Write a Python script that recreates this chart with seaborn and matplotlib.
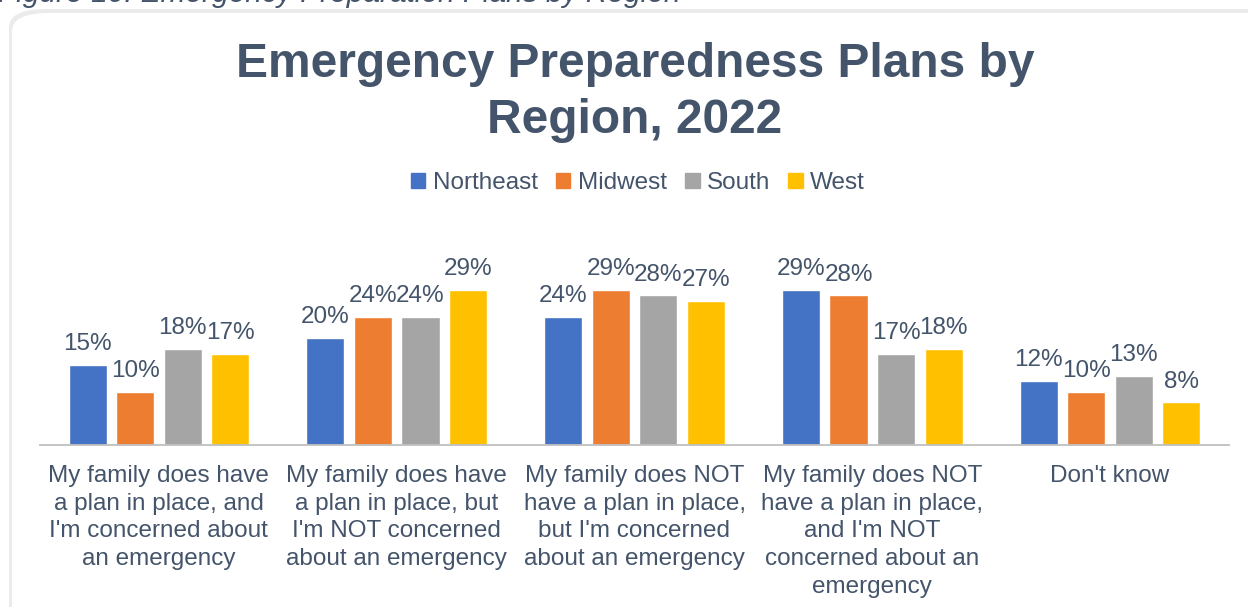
import matplotlib
matplotlib.use("Agg")
import matplotlib.pyplot as plt
from matplotlib.patches import FancyBboxPatch
import seaborn as sns
import pandas as pd

categories = [
    "My family does have\na plan in place, and\nI'm concerned about\nan emergency",
    "My family does have\na plan in place, but\nI'm NOT concerned\nabout an emergency",
    "My family does NOT\nhave a plan in place,\nbut I'm concerned\nabout an emergency",
    "My family does NOT\nhave a plan in place,\nand I'm NOT\nconcerned about an\nemergency",
    "Don't know",
]
regions = ["Northeast", "Midwest", "South", "West"]
northeast = [15, 20, 24, 29, 12]
midwest = [10, 24, 29, 28, 10]
south = [18, 24, 28, 17, 13]
west = [17, 29, 27, 18, 8]
colors = ["#4472C4", "#ED7D31", "#A5A5A5", "#FFC000"]

text_color = "#44546A"

rows = []
for region, vals in zip(regions, [northeast, midwest, south, west]):
    for cat, v in zip(categories, vals):
        rows.append({"category": cat, "region": region, "pct": v})
df = pd.DataFrame(rows)

sns.set_theme(style="white")
plt.rcParams["font.family"] = ["Liberation Sans", "DejaVu Sans"]

W, H = 1248, 607
fig = plt.figure(figsize=(W / 100, H / 100), dpi=100)

# Chart frame with a soft shadow
shadow = FancyBboxPatch((9 / W, -0.05), 1.05, (H - 9) / H + 0.05,
                        boxstyle="round,pad=0,rounding_size=0.03",
                        transform=fig.transFigure, facecolor="#EBEBEB",
                        edgecolor="none", zorder=-2)
frame = FancyBboxPatch((12 / W, -0.05), 1.05, (H - 13) / H + 0.05,
                       boxstyle="round,pad=0,rounding_size=0.03",
                       transform=fig.transFigure, facecolor="white",
                       edgecolor="none", zorder=-1)
fig.patches.extend([shadow, frame])

# Caption above the frame
fig.text(-2 / W, 1 + 6 / H, "Figure 10: Emergency Preparation Plans by Region",
         ha="left", va="center", fontsize=21.5, style="italic", color=text_color)

ax = fig.add_axes([40 / W, (H - 445) / H, (1229 - 40) / W, 235 / H])
ax.set_facecolor("none")
sns.barplot(data=df, x="category", y="pct", hue="region", hue_order=regions,
            palette=colors, width=0.8, gap=0.2, ax=ax, legend=False,
            saturation=1, errorbar=None)

for container in ax.containers:
    ax.bar_label(container, labels=[f"{v:.0f}%" for v in container.datavalues],
                 padding=7, fontsize=17.5, color=text_color)

ax.set_ylim(0, 44)
ax.set_xlim(-0.5, len(categories) - 0.5)
ax.set_xlabel("")
ax.set_ylabel("")
ax.set_yticks([])
for s in ["left", "right", "top"]:
    ax.spines[s].set_visible(False)
ax.spines["bottom"].set_color("#BFBFBF")
ax.spines["bottom"].set_linewidth(1.3)
ax.tick_params(axis="x", length=0, pad=14.5, labelsize=17.5, labelcolor=text_color)
for lab in ax.get_xticklabels():
    lab.set_linespacing(1.33)

fig.text(635 / W, 1 - 92.5 / H, "Emergency Preparedness Plans by\nRegion, 2022",
         ha="center", va="center", fontsize=34.5, fontweight="bold",
         color=text_color, linespacing=1.3)

handles = [plt.Rectangle((0, 0), 1, 1, color=c) for c in colors]
fig.legend(handles, regions, loc="center", bbox_to_anchor=(638 / W, 1 - 183 / H),
           ncol=4, frameon=False, fontsize=17.5, labelcolor=text_color,
           handlelength=0.6, handleheight=0.6, handletextpad=0.3,
           columnspacing=0.75)

fig.savefig("out.png", dpi=100)
